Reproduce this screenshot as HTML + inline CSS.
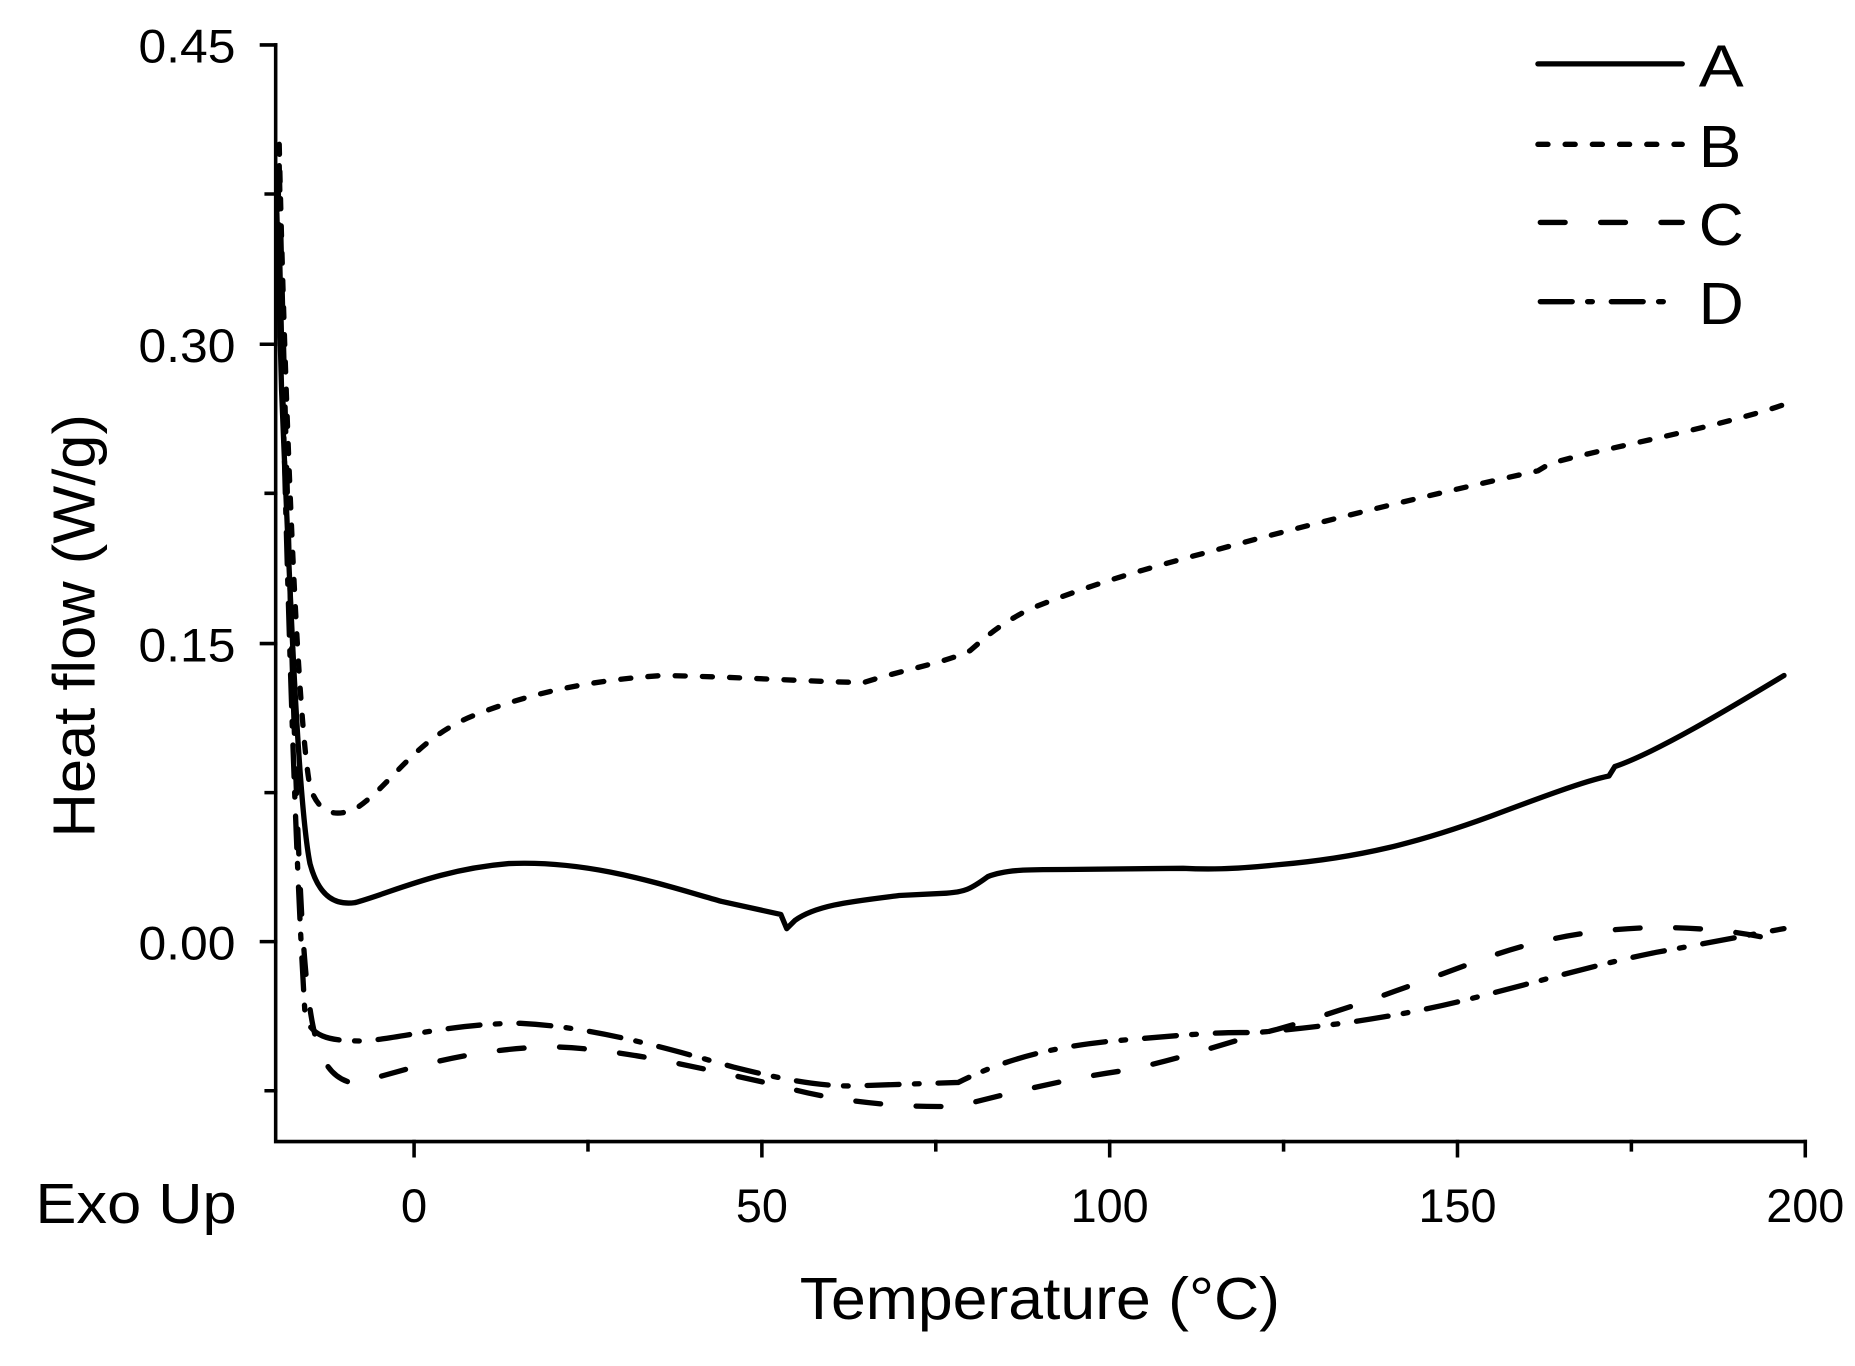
<!DOCTYPE html>
<html><head><meta charset="utf-8"><style>
html,body{margin:0;padding:0;background:#fff;}
svg{display:block;}
text{font-family:"Liberation Sans",Arial,sans-serif;fill:#000;}
</style></head><body>
<svg width="1855" height="1366" viewBox="0 0 1568 1154.7" xmlns="http://www.w3.org/2000/svg">
<g stroke="#000" stroke-width="3" fill="none" stroke-linecap="square">
<path d="M233,38 L233,965 L1526,965"/>
<path d="M221,38H233M221,291H233M221,544H233M221,796H233M225,164H233M225,417H233M225,670H233M225,922H233"/>
<path d="M350,965V977M644,965V977M938,965V977M1232,965V977M1526,965V977M497,965V972M791,965V972M1085,965V972M1379,965V972"/>
</g>
<g font-size="40" text-anchor="end">
<text x="199" y="53" textLength="82" lengthAdjust="spacingAndGlyphs">0.45</text>
<text x="199" y="306" textLength="82" lengthAdjust="spacingAndGlyphs">0.30</text>
<text x="199" y="559" textLength="82" lengthAdjust="spacingAndGlyphs">0.15</text>
<text x="199" y="811" textLength="82" lengthAdjust="spacingAndGlyphs">0.00</text>
</g>
<g font-size="40" text-anchor="middle">
<text x="350" y="1033">0</text>
<text x="644" y="1033" textLength="44" lengthAdjust="spacingAndGlyphs">50</text>
<text x="938" y="1033" textLength="66" lengthAdjust="spacingAndGlyphs">100</text>
<text x="1232" y="1033" textLength="66" lengthAdjust="spacingAndGlyphs">150</text>
<text x="1526" y="1033" textLength="66" lengthAdjust="spacingAndGlyphs">200</text>
</g>
<text x="30" y="1034" font-size="48" textLength="170" lengthAdjust="spacingAndGlyphs">Exo Up</text>
<text x="676" y="1115" font-size="50" textLength="406" lengthAdjust="spacingAndGlyphs">Temperature (°C)</text>
<text transform="translate(80,708) rotate(-90)" font-size="50" textLength="358" lengthAdjust="spacingAndGlyphs">Heat flow (W/g)</text>
<g stroke="#000" stroke-width="4.5" fill="none" stroke-linecap="round" stroke-linejoin="round">
<path d="M1300,54H1422"/>
<path d="M1300,122H1422" stroke-dasharray="8.5 14.5"/>
<path d="M1302,188H1422" stroke-dasharray="21 30"/>
<path d="M1302,255H1422" stroke-dasharray="27 13 4 16"/>
<path d="M234,180 L238,330 C245,500 252,680 262,730 C270,760 285,765 300,763 C330,755 370,735 430,730 C500,727 560,748 610,762 L660,773 L665,785 L672,778 C690,765 720,762 760,757 L800,755 C815,754 820,752 835,741 C850,735 870,735 900,735 L1000,734 C1020,735 1040,735 1080,731 C1150,725 1200,712 1260,690 C1300,675 1340,660 1360,656 L1365,648 C1400,636 1460,600 1508,571"/>
<path d="M236,122 C240,300 250,600 262,665 C270,690 285,690 300,684 C330,665 350,625 400,605 C450,585 500,575 560,571 C620,572 680,576 730,577 C760,567 800,560 820,550 C835,537 845,528 870,515 C920,495 960,483 1020,467 C1100,445 1200,420 1300,398 L1310,392 C1350,380 1450,362 1508,342" stroke-dasharray="8.5 14.5"/>
<path d="M236,140 C242,400 250,700 256,790 C262,880 270,910 300,916 C340,905 400,885 470,885 C530,887 600,905 660,918 C700,930 760,937 810,935 C850,925 900,912 950,905 C1000,895 1040,880 1080,870 C1150,850 1200,830 1250,812 C1300,793 1350,785 1400,784 C1440,784 1480,788 1508,797" stroke-dasharray="21 30"/>
<path d="M235,150 C240,400 248,700 258,860 C265,878 280,880 310,880 C350,875 390,865 440,865 C500,868 560,885 620,902 C660,912 690,918 720,918 L810,915 C850,895 890,885 940,880 C1000,875 1030,872 1060,873 C1120,868 1180,860 1240,845 C1300,830 1350,815 1400,805 C1450,796 1480,790 1508,785" stroke-dasharray="27 13 4 16"/>
</g>
<g font-size="50">
<text x="1436" y="73" textLength="38" lengthAdjust="spacingAndGlyphs">A</text>
<text x="1436" y="141" textLength="36" lengthAdjust="spacingAndGlyphs">B</text>
<text x="1436" y="207" textLength="38" lengthAdjust="spacingAndGlyphs">C</text>
<text x="1436" y="274" textLength="38" lengthAdjust="spacingAndGlyphs">D</text>
</g>
</svg>
</body></html>
